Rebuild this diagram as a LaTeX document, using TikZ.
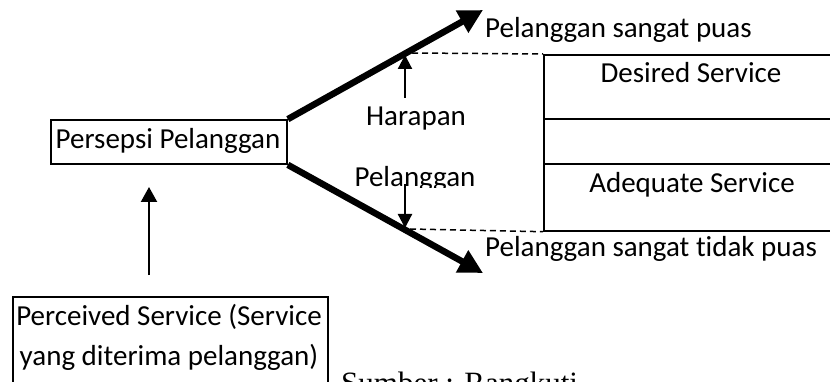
\documentclass[tikz,border=0pt]{standalone}
\usepackage{fontspec}
\setmainfont{Carlito}[Ligatures=NoCommon]
\newfontfamily\timesfont{Liberation Serif}
\usetikzlibrary{arrows.meta}
\tikzset{
  lbl/.style={font=\fontsize{29}{35}\selectfont, inner sep=0pt, anchor=base},
  lblw/.style={lbl, anchor=base west},
  boxline/.style={draw, line width=1.7pt},
  bigarrow/.style={line width=6.5pt, -{Triangle[length=24pt,width=24pt]}},
  smallarrow/.style={line width=2.2pt, -{Triangle[length=14pt,width=14pt]}},
  guide/.style={line width=1.5pt, dash pattern=on 6pt off 4pt},
}
\begin{document}
\begin{tikzpicture}[x=1pt,y=-1pt]
\useasboundingbox (0,0) rectangle (830,382);
\clip (0,0) rectangle (830,382);
\fill[white] (0,0) rectangle (830,382);

% Persepsi Pelanggan box
\node[boxline, minimum width=236pt, minimum height=44pt, inner sep=0pt] (persepsi) at (169,142) {};
\node[lbl] (persepsiText) at (168,149) {Persepsi Pelanggan};

% Perceived Service box
\node[boxline, minimum width=315pt, minimum height=120pt, inner sep=0pt, anchor=north west] (perceived) at (12,296) {};
\node[lbl] (perc1) at (169,325) {Perceived Service (Service};
\node[lbl] (perc2) at (169,365) {yang diterima pelanggan)};

% Service box
\node[boxline, minimum width=300pt, minimum height=176pt, inner sep=0pt, anchor=north west] (service) at (543,54) {};
\coordinate (d1L) at (543,119); \coordinate (d1R) at (845,119);
\coordinate (d2L) at (543,164); \coordinate (d2R) at (845,164);
\draw[line width=1.7pt] (d1L) -- (d1R);
\draw[line width=1.7pt] (d2L) -- (d2R);
\node[lbl] (desired) at (691,83) {Desired Service};
\node[lbl] (adequate) at (692,193) {Adequate Service};

% big arrows
\coordinate (upTip) at (483,10);
\coordinate (downTip) at (483,273);
\draw[bigarrow] (persepsi.north east) -- (upTip);
\draw[bigarrow] (persepsi.south east) -- (downTip);

\node[lblw] (puas) at (485,38) {Pelanggan sangat puas};
\node[lblw] (tidakpuas) at (485,256) {Pelanggan sangat tidak puas};

% dashed guides
\coordinate (gTop) at (412,53);
\coordinate (gBot) at (410,229);
\draw[guide] (gTop) -- (service.north west);
\draw[guide] (gBot) -- (service.south west);

% expectation labels and arrows
\node[lbl] (harapan) at (416,126) {Harapan};
\begin{scope}
  \clip (330,150) rectangle (500,188);
  \node[lbl] (pelanggan) at (415,187) {Pelanggan};
\end{scope}
\coordinate (uaStart) at (405,98);
\coordinate (uaEnd) at (405,55);
\coordinate (daStart) at (405,184);
\coordinate (daEnd) at (405,228);
\draw[smallarrow] (uaStart) -- (uaEnd);
\draw[smallarrow] (daStart) -- (daEnd);

% perceived -> persepsi arrow
\coordinate (vaStart) at (149,275);
\coordinate (vaEnd) at (149,187);
\draw[smallarrow, -{Triangle[length=15pt,width=16pt]}] (vaStart) -- (vaEnd);

% source
\node[font=\timesfont\fontsize{31}{36}\selectfont, inner sep=0pt, anchor=base west] (sumber) at (341,393) {Sumber : Rangkuti};
\end{tikzpicture}
\end{document}
